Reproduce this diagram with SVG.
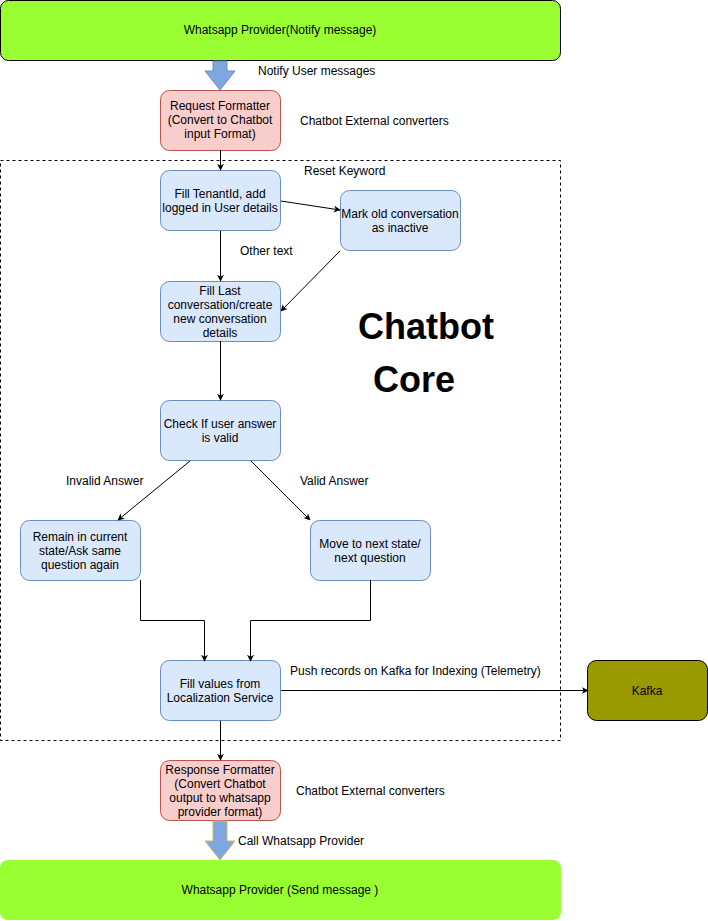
<svg xmlns="http://www.w3.org/2000/svg" width="708" height="921" viewBox="0 0 708 921">
<style>
text{font-family:"Liberation Sans",Arial,sans-serif;font-size:12px;fill:#000}
.c{text-anchor:middle}
.blue{fill:#DAE8FC;stroke:#6C8EBF;stroke-width:1}
.red{fill:#F8CECC;stroke:#B85450;stroke-width:1}
.ln{fill:none;stroke:#000;stroke-width:1}
.big{font-size:36px;font-weight:bold}
</style>
<defs>
<marker id="ah" viewBox="0 0 10 10" refX="9" refY="5" markerWidth="7" markerHeight="7" orient="auto" markerUnits="userSpaceOnUse">
<path d="M0,0 L10,5 L0,10 L3,5 Z" fill="#000"/>
</marker>
</defs>
<rect x="0" y="0" width="708" height="921" fill="#fff"/>
<rect id="core" x="0.5" y="160.5" width="560" height="580" fill="none" stroke="#000" stroke-dasharray="3,3"/>
<g id="provider-notify">
<rect x="0.5" y="0.5" width="560" height="60" rx="8" fill="#99FF33" stroke="#000"/>
<text class="c" x="280" y="34">Whatsapp Provider(Notify message)</text>
</g>
<g id="provider-send">
<rect x="0" y="860" width="561" height="60" rx="8" fill="#99FF33"/>
<text class="c" x="280" y="894">Whatsapp Provider (Send message )</text>
</g>
<g id="req-formatter">
<rect class="red" x="160.5" y="90.5" width="120" height="60" rx="9"/>
<text class="c" x="220" y="110">Request Formatter</text>
<text class="c" x="220" y="124">(Convert to Chatbot</text>
<text class="c" x="220" y="138">input Format)</text>
</g>
<g id="fill-tenant">
<rect class="blue" x="160.5" y="170.5" width="120" height="60" rx="9"/>
<text class="c" x="220" y="198">Fill TenantId, add</text>
<text class="c" x="220" y="212">logged in User details</text>
</g>
<g id="mark-old">
<rect class="blue" x="340.5" y="190.5" width="120" height="60" rx="9"/>
<text class="c" x="400" y="218">Mark old conversation</text>
<text class="c" x="400" y="232">as inactive</text>
</g>
<g id="fill-last">
<rect class="blue" x="160.5" y="281.5" width="120" height="60" rx="9"/>
<text class="c" x="220" y="295">Fill Last</text>
<text class="c" x="220" y="309">conversation/create</text>
<text class="c" x="220" y="323">new conversation</text>
<text class="c" x="220" y="337">details</text>
</g>
<g id="check">
<rect class="blue" x="160.5" y="400.5" width="120" height="60" rx="9"/>
<text class="c" x="220" y="428">Check If user answer</text>
<text class="c" x="220" y="442">is valid</text>
</g>
<g id="remain">
<rect class="blue" x="20.5" y="520.5" width="120" height="60" rx="9"/>
<text class="c" x="80" y="541">Remain in current</text>
<text class="c" x="80" y="555">state/Ask same</text>
<text class="c" x="80" y="569">question again</text>
</g>
<g id="move">
<rect class="blue" x="310.5" y="520.5" width="120" height="60" rx="9"/>
<text class="c" x="370" y="548">Move to next state/</text>
<text class="c" x="370" y="562">next question</text>
</g>
<g id="fill-values">
<rect class="blue" x="160.5" y="660.5" width="120" height="60" rx="9"/>
<text class="c" x="220" y="688">Fill values from</text>
<text class="c" x="220" y="702">Localization Service</text>
</g>
<g id="kafka">
<rect x="587.5" y="660.5" width="120" height="60" rx="9" fill="#999900" stroke="#000"/>
<text class="c" x="647" y="695">Kafka</text>
</g>
<g id="resp-formatter">
<rect class="red" x="160.5" y="760.5" width="120" height="60" rx="9"/>
<text class="c" x="220" y="774">Response Formatter</text>
<text class="c" x="220" y="788">(Convert Chatbot</text>
<text class="c" x="220" y="802">output to whatsapp</text>
<text class="c" x="220" y="816">provider format)</text>
</g>
<g id="connectors">
<path d="M213,61 L227,61 L227,71 L235,71 L220,90 L205,71 L213,71 Z" fill="#7EA6E0" stroke="#6C8EBF"/>
<path d="M213,821 L227,821 L227,841 L235,841 L220,860 L205,841 L213,841 Z" fill="#7EA6E0" stroke="#D6B656"/>
<path class="ln" d="M220.5,150 L220.5,170" marker-end="url(#ah)"/>
<path class="ln" d="M281,201 L340,210" marker-end="url(#ah)"/>
<path class="ln" d="M220.5,231 L220.5,281" marker-end="url(#ah)"/>
<path class="ln" d="M340,251 L281,311" stroke-width="0.7" marker-end="url(#ah)"/>
<path class="ln" d="M220.5,341 L220.5,400" marker-end="url(#ah)"/>
<path class="ln" d="M190,461 L118,520" stroke-width="0.7" marker-end="url(#ah)"/>
<path class="ln" d="M251,461 L310,520" stroke-width="0.7" marker-end="url(#ah)"/>
<path class="ln" d="M140.5,580 L140.5,620.5 L204.5,620.5 L204.5,661" marker-end="url(#ah)"/>
<path class="ln" d="M370.5,580 L370.5,620.5 L250.5,620.5 L250.5,661" marker-end="url(#ah)"/>
<path class="ln" d="M281,690.5 L588,690.5" marker-end="url(#ah)"/>
<path class="ln" d="M220.5,721 L220.5,760" marker-end="url(#ah)"/>
</g>
<g id="labels">
<text x="258" y="75">Notify User messages</text>
<text x="300" y="125">Chatbot External converters</text>
<text x="304" y="175">Reset Keyword</text>
<text x="240" y="255">Other text</text>
<text x="66" y="485">Invalid Answer</text>
<text x="300" y="485">Valid Answer</text>
<text x="290" y="675">Push records on Kafka for Indexing (Telemetry)</text>
<text x="296" y="795">Chatbot External converters</text>
<text x="238" y="845">Call Whatsapp Provider</text>
<text class="c big" x="426" y="339">Chatbot</text>
<text class="c big" x="414" y="392">Core</text>
</g>
</svg>
